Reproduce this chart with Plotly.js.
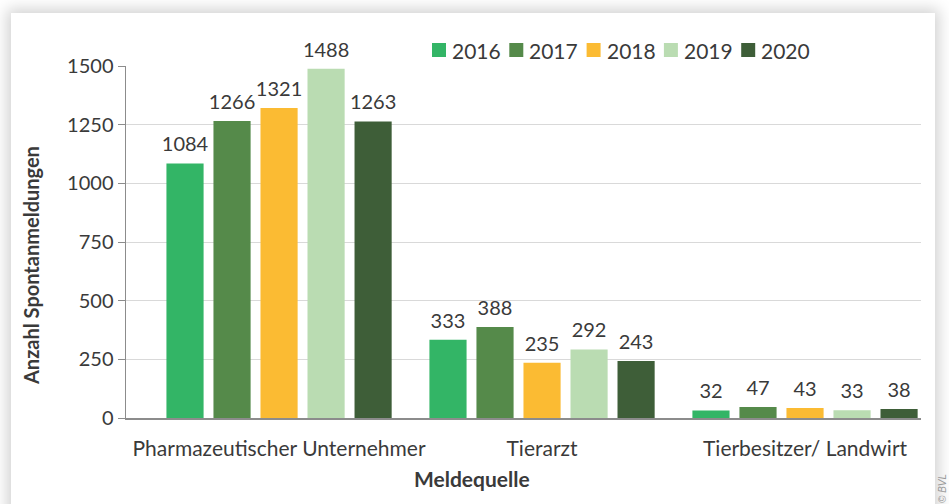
<!DOCTYPE html>
<html>
<head>
<meta charset="utf-8">
<script src="https://cdn.plot.ly/plotly-3.0.1.min.js"></script>
<style>
  html, body { margin:0; padding:0; background:#ffffff; width:949px; height:504px; overflow:hidden; }
  #card { position:absolute; left:11px; top:13px; width:924px; height:520px; background:#fff; box-shadow:0 0 14px 4px rgba(0,0,0,0.18); }
  #chart { position:absolute; left:0; top:0; width:949px; height:504px; }
  #copy { position:absolute; left:937px; top:503px; font:italic 10px "Liberation Sans", sans-serif; color:#999; transform:rotate(-90deg); transform-origin:left top; white-space:nowrap; }
</style>
</head>
<body>
<div id="card"></div>
<div id="chart"></div>
<div id="copy">© BVL</div>
<script>
const categories = ["Pharmazeutischer Unternehmer", "Tierarzt", "Tierbesitzer/ Landwirt"];
const years = ["2016", "2017", "2018", "2019", "2020"];
const v2016 = [1084, 333, 32];
const v2017 = [1266, 388, 47];
const v2018 = [1321, 235, 43];
const v2019 = [1488, 292, 33];
const v2020 = [1263, 243, 38];
const colors = ["#33b566", "#558a4a", "#fbbb33", "#badcb2", "#3e5e38"];
const seriesValues = [v2016, v2017, v2018, v2019, v2020];

const font = "Lato, 'Open Sans', sans-serif";
const txt = "#3a3a3a";
const bars = years.map((y, i) => ({
  type: "bar",
  name: y,
  x: categories,
  y: seriesValues[i],
  marker: { color: colors[i] },
  showlegend: false
}));
// value labels: text-only scatter traces grouped like the bars
const labels = years.map((y, i) => ({
  type: "scatter",
  mode: "markers+text",
  name: y + " label",
  x: categories,
  y: seriesValues[i],
  text: seriesValues[i].map(String),
  textposition: "top center",
  textfont: { family: font, size: 20, color: txt },
  marker: { size: 10, color: "rgba(0,0,0,0)" },
  cliponaxis: false,
  showlegend: false
}));

// plot area in pixels (from margins)
const M = { l: 126, r: 28, t: 66, b: 86 };
const W = 949, H = 504;
const pw = W - M.l - M.r, ph = H - M.t - M.b;
const px2x = px => (px - M.l) / pw;
const px2y = py => (H - M.b - py) / ph;

// legend laid out like the original (square + label, horizontal row)
const legStart = 432, legPitch = 77.3, sq = 14, legCy = 50;
const shapes = [];
const annotations = [];
years.forEach((y, i) => {
  const x0 = legStart + i * legPitch;
  shapes.push({ type: "rect", xref: "paper", yref: "paper",
    x0: px2x(x0), x1: px2x(x0 + sq), y0: px2y(legCy - sq / 2), y1: px2y(legCy + sq / 2),
    fillcolor: colors[i], line: { width: 0 } });
  annotations.push({ text: y, xref: "paper", yref: "paper",
    x: px2x(x0 + sq + 4), y: px2y(legCy), xanchor: "left", yanchor: "middle",
    showarrow: false, font: { family: font, size: 21, color: txt } });
});

annotations.push(
  { text: "Meldequelle", xref: "paper", yref: "paper", x: px2x(472), y: px2y(478),
    xanchor: "center", yanchor: "middle", showarrow: false,
    font: { family: font, size: 21, color: txt, weight: "bold" } },
  { text: "Anzahl Spontanmeldungen", xref: "paper", yref: "paper", x: px2x(31), y: px2y(266),
    xanchor: "center", yanchor: "middle", showarrow: false, textangle: -90,
    font: { family: font, size: 20, color: txt, weight: "bold" } }
);

const layout = {
  width: W, height: H,
  margin: M,
  paper_bgcolor: "rgba(0,0,0,0)",
  plot_bgcolor: "rgba(0,0,0,0)",
  barmode: "group",
  bargap: 0.106,
  bargroupgap: 0.21,
  scattermode: "group",
  scattergap: 0.106,
  showlegend: false,
  xaxis: {
    type: "category",
    range: [-0.582, 2.441],
    showline: true, linecolor: "#8c8c8c", linewidth: 1.5,
    ticks: "", tickfont: { family: font, size: 21, color: txt },
    ticklabelstandoff: 11
  },
  yaxis: {
    range: [0, 1500],
    tickvals: [0, 250, 500, 750, 1000, 1250, 1500],
    showline: true, linecolor: "#8c8c8c", linewidth: 1.5,
    ticks: "outside", ticklen: 7, tickcolor: "#8c8c8c",
    gridcolor: "#d9d9d9", gridwidth: 1,
    zeroline: false,
    tickfont: { family: font, size: 20, color: txt }
  },
  shapes: shapes,
  annotations: annotations
};

Plotly.newPlot("chart", bars.concat(labels), layout, { displayModeBar: false, staticPlot: true });
</script>
</body>
</html>
